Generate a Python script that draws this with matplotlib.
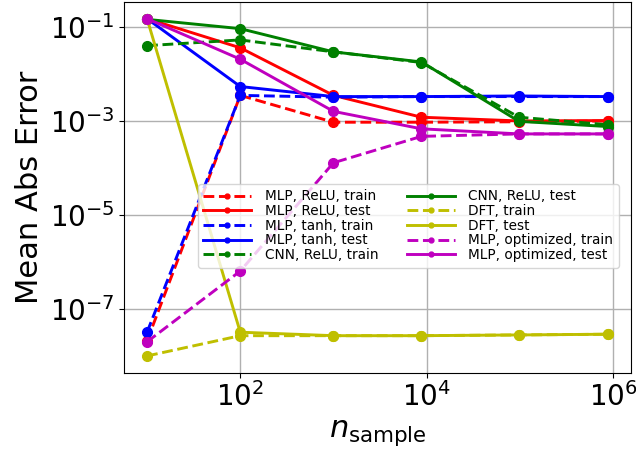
import numpy as np
import matplotlib
matplotlib.use('Agg')
from matplotlib import pyplot as plt
from matplotlib.ticker import NullLocator

# sample sizes
n_sample = [10, 100, 1000, 8800, 98000, 880000]

# mean abs error per model
mlp_relu_train = [2.1e-8, 0.0035, 0.00094, 0.00094, 0.00096, 0.0010]
mlp_relu_test = [0.15, 0.036, 0.0035, 0.0012, 0.0010, 0.00102]
mlp_tanh_train = [3.2e-8, 0.0035, 0.0032, 0.0033, 0.0033, 0.0033]
mlp_tanh_test = [0.15, 0.0054, 0.0033, 0.0033, 0.0034, 0.0033]
cnn_relu_train = [0.040, 0.053, 0.0295, 0.0175, 0.0012, 0.00083]
cnn_relu_test = [0.145, 0.092, 0.0295, 0.018, 0.00098, 0.00076]
dft_train = [1.0e-8, 2.7e-8, 2.7e-8, 2.7e-8, 2.8e-8, 2.9e-8]
dft_test = [0.15, 3.2e-8, 2.7e-8, 2.7e-8, 2.8e-8, 2.9e-8]
mlp_opt_train = [2.0e-8, 6.4e-7, 1.29e-4, 0.00047, 0.00053, 0.00053]
mlp_opt_test = [0.15, 0.0206, 0.0016, 0.00068, 0.00053, 0.00053]

series = [
    (mlp_relu_train, 'r', '--', 'MLP, ReLU, train'),
    (mlp_relu_test, 'r', '-', 'MLP, ReLU, test'),
    (mlp_tanh_train, 'b', '--', 'MLP, tanh, train'),
    (mlp_tanh_test, 'b', '-', 'MLP, tanh, test'),
    (cnn_relu_train, 'g', '--', 'CNN, ReLU, train'),
    (cnn_relu_test, 'g', '-', 'CNN, ReLU, test'),
    (dft_train, 'y', '--', 'DFT, train'),
    (dft_test, 'y', '-', 'DFT, test'),
    (mlp_opt_train, 'm', '--', 'MLP, optimized, train'),
    (mlp_opt_test, 'm', '-', 'MLP, optimized, test'),
]

fig = plt.figure(figsize=(6.36, 4.53), dpi=100)
ax = fig.add_axes([0.195, 0.177, 0.797, 0.819])

for vals, c, ls, lab in series:
    ax.plot(n_sample, vals, color=c, linestyle=ls, linewidth=2.1,
            marker='o', markersize=7, label=lab)

ax.set_xscale('log')
ax.set_yscale('log')
ax.set_xticks([1e2, 1e4, 1e6])
ax.set_yticks([1e-7, 1e-5, 1e-3, 1e-1])
ax.xaxis.set_minor_locator(NullLocator())
ax.yaxis.set_minor_locator(NullLocator())
ax.tick_params(labelsize=20)
ax.grid(True, color='#b0b0b0', linewidth=1)
ax.set_axisbelow(True)
ax.set_xlabel(r'$n_{\rm sample}$', fontsize=22)
ax.set_ylabel('Mean Abs Error', fontsize=22)

ax.legend(ncol=2, fontsize=9.8, markerscale=0.5, handlelength=3.5,
          handletextpad=1.0, labelspacing=0.05, columnspacing=2.1,
          borderaxespad=0, loc='upper left', bbox_to_anchor=(0.146, 0.509))

plt.savefig('out.png', dpi=100)
